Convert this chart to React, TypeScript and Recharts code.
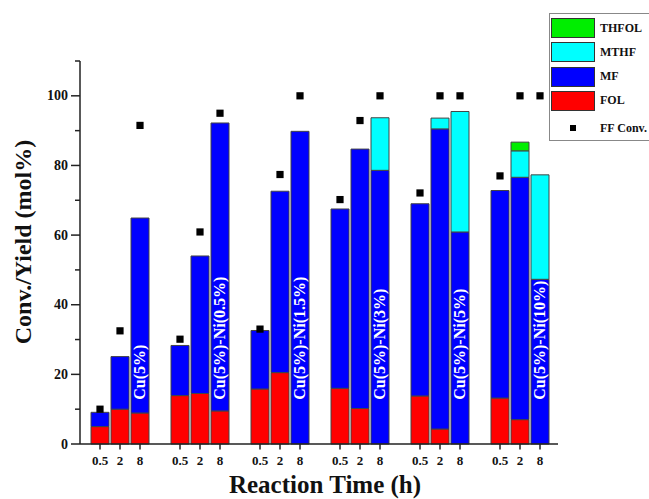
import { ComposedChart, Bar, Scatter, XAxis, YAxis, Legend, LabelList } from "recharts"

const catalysts = [
  "Cu(5%)",
  "Cu(5%)-Ni(0.5%)",
  "Cu(5%)-Ni(1.5%)",
  "Cu(5%)-Ni(3%)",
  "Cu(5%)-Ni(5%)",
  "Cu(5%)-Ni(10%)",
]
const times = ["0.5", "2", "8"]

// yields (mol%) per catalyst, for 0.5 h / 2 h / 8 h
const fol = [
  [5.0, 10.0, 8.9],
  [13.9, 14.5, 9.5],
  [15.8, 20.5, 0],
  [16.0, 10.2, 0],
  [13.8, 4.3, 0],
  [13.2, 7.0, 0],
]
const mf = [
  [4.1, 15.1, 56.0],
  [14.4, 39.5, 82.7],
  [16.8, 52.1, 89.8],
  [51.5, 74.5, 78.6],
  [55.2, 86.2, 60.9],
  [59.6, 69.6, 47.3],
]
const mthf = [
  [0, 0, 0],
  [0, 0, 0],
  [0, 0, 0],
  [0, 0, 15.1],
  [0, 3.1, 34.6],
  [0, 7.6, 30.0],
]
const thfol = [
  [0, 0, 0],
  [0, 0, 0],
  [0, 0, 0],
  [0, 0, 0],
  [0, 0, 0],
  [0, 2.5, 0],
]
const ffConv = [
  [10.0, 32.5, 91.5],
  [30.1, 60.9, 95.0],
  [33.0, 77.4, 100],
  [70.2, 92.9, 100],
  [72.1, 100, 100],
  [77.0, 100, 100],
]

const yTicks = [0, 10, 20, 30, 40, 50, 60, 70, 80, 90, 100, 110]

type Row = {
  key: string
  time: string
  tag?: string
  fol?: number | null
  mf?: number | null
  mthf?: number | null
  thfol?: number | null
  conv?: number | null
}

const rows: Row[] = []
catalysts.forEach((cat, g) => {
  if (g > 0) rows.push({ key: `gap${g}`, time: "", conv: null })
  times.forEach((t, i) => {
    rows.push({
      key: `${g}-${t}`,
      time: t,
      tag: i === 2 ? cat : undefined,
      fol: fol[g][i],
      mf: mf[g][i],
      mthf: mthf[g][i],
      thfol: thfol[g][i],
      conv: ffConv[g][i],
    })
  })
})

const FONT = '"Liberation Serif", "Times New Roman", serif'
const W = 649
const H = 499
const TOP = 61
const XAXIS_H = 55
const PLOT_H = H - TOP - XAXIS_H
const LABEL_Y = TOP + PLOT_H * (1 - 12.7 / 110)
const AXIS = "#222"
const EDGE = "#444"

const COLORS = {
  thfol: "#00ee00",
  mthf: "#00ffff",
  mf: "#0000ff",
  fol: "#ff0000",
}

const XTick = (props: any) => {
  const { x, y, payload } = props
  const row = rows[payload.index]
  if (!row || !row.time) return null
  return (
    <g>
      <line x1={x} x2={x} y1={y} y2={y + 5.5} stroke={AXIS} strokeWidth={1.5} />
      <text x={x} y={y + 21} textAnchor="middle" fontFamily={FONT} fontWeight="bold" fontSize={13} fill="#111">
        {row.time}
      </text>
    </g>
  )
}

const YTick = (props: any) => {
  const { x, y, payload } = props
  const v = payload.value as number
  const major = v % 20 === 0
  return (
    <g>
      <line x1={x} x2={x - (major ? 9 : 5)} y1={y} y2={y} stroke={AXIS} strokeWidth={1.5} />
      {major && (
        <text x={x - 12} y={y} textAnchor="end" dominantBaseline="central" fontFamily={FONT} fontWeight="bold" fontSize={14} fill="#111">
          {v}
        </text>
      )}
    </g>
  )
}

const SquareDot = (props: any) => {
  const { cx, cy, payload } = props
  if (payload == null || payload.conv == null || !isFinite(cx) || !isFinite(cy)) return <g />
  return <rect x={cx - 3.6} y={cy - 3.6} width={7.2} height={7.2} fill="#000" />
}

const BarTag = (props: any) => {
  const { x, width, value } = props
  if (!value) return null
  const cx = x + width / 2
  return (
    <text
      x={cx}
      y={LABEL_Y}
      transform={`rotate(-90 ${cx} ${LABEL_Y})`}
      textAnchor="start"
      dominantBaseline="central"
      fontFamily={FONT}
      fontWeight="bold"
      fontSize={16}
      fill="#fff"
    >
      {value}
    </text>
  )
}

const legendItems = [
  { name: "THFOL", color: COLORS.thfol },
  { name: "MTHF", color: COLORS.mthf },
  { name: "MF", color: COLORS.mf },
  { name: "FOL", color: COLORS.fol },
]

const LegendBox = () => (
  <div
    style={{
      width: 100,
      height: 128,
      border: "1px solid #888",
      borderRight: "none",
      background: "#fff",
      boxSizing: "border-box",
      position: "relative",
      fontFamily: FONT,
      fontWeight: "bold",
      fontSize: 12,
      color: "#111",
    }}
  >
    {legendItems.map((it, i) => (
      <div key={it.name} style={{ position: "absolute", left: 1, top: 4 + i * 24.3, display: "flex", alignItems: "center" }}>
        <div style={{ width: 44, height: 20, background: it.color, border: "1px solid #333", boxSizing: "border-box" }} />
        <span style={{ marginLeft: 5 }}>{it.name}</span>
      </div>
    ))}
    <div style={{ position: "absolute", left: 1, top: 104, display: "flex", alignItems: "center", height: 20 }}>
      <div style={{ width: 44, display: "flex", justifyContent: "center" }}>
        <div style={{ width: 6.5, height: 6.5, background: "#000" }} />
      </div>
      <span style={{ marginLeft: 5 }}>FF Conv.</span>
    </div>
  </div>
)

export default function App() {
  return (
    <div style={{ position: "absolute", left: 0, top: 0, width: W, height: H, overflow: "hidden", background: "#fff" }}>
      <ComposedChart width={W} height={H} data={rows} margin={{ top: TOP, right: 91, left: 0, bottom: 0 }}>
        <XAxis
          dataKey="key"
          type="category"
          height={XAXIS_H}
          padding={{ left: 10, right: 8 }}
          interval={0}
          tick={<XTick />}
          tickLine={false}
          tickSize={0}
          tickMargin={0}
          axisLine={{ stroke: AXIS, strokeWidth: 1.5 }}
          label={{
            content: () => (
              <text x={325} y={493} textAnchor="middle" fontFamily={FONT} fontWeight="bold" fontSize={25} fill="#111">
                Reaction Time (h)
              </text>
            ),
          }}
        />
        <YAxis
          type="number"
          domain={[0, 110]}
          ticks={yTicks}
          interval={0}
          width={80}
          tick={<YTick />}
          tickLine={false}
          tickSize={0}
          tickMargin={0}
          axisLine={{ stroke: AXIS, strokeWidth: 1.5 }}
          label={{
            content: () => (
              <text
                x={23}
                y={242}
                transform="rotate(-90 23 242)"
                textAnchor="middle"
                dominantBaseline="central"
                fontFamily={FONT}
                fontWeight="bold"
                fontSize={24}
                fill="#111"
              >
                Conv./Yield (mol%)
              </text>
            ),
          }}
        />
        <Legend
          layout="vertical"
          verticalAlign="middle"
          align="center"
          wrapperStyle={{ top: 13, left: 549, width: 100 }}
          content={() => <LegendBox />}
        />
        <Bar dataKey="fol" name="FOL" stackId="a" fill={COLORS.fol} stroke={EDGE} strokeWidth={1} barSize={18} isAnimationActive={false} />
        <Bar dataKey="mf" name="MF" stackId="a" fill={COLORS.mf} stroke={EDGE} strokeWidth={1} barSize={18} isAnimationActive={false}>
          <LabelList dataKey="tag" content={<BarTag />} />
        </Bar>
        <Bar dataKey="mthf" name="MTHF" stackId="a" fill={COLORS.mthf} stroke={EDGE} strokeWidth={1} barSize={18} isAnimationActive={false} />
        <Bar dataKey="thfol" name="THFOL" stackId="a" fill={COLORS.thfol} stroke={EDGE} strokeWidth={1} barSize={18} isAnimationActive={false} />
        <Scatter dataKey="conv" name="FF Conv." shape={<SquareDot />} isAnimationActive={false} />
      </ComposedChart>
    </div>
  )
}
